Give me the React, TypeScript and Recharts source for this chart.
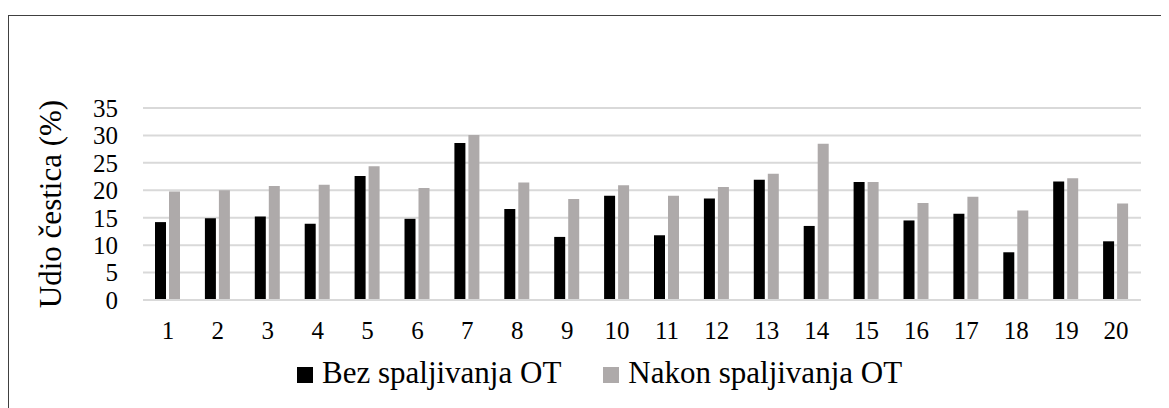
import { BarChart, Bar, CartesianGrid, XAxis, YAxis, Label } from "recharts";

const categories = [
  "1", "2", "3", "4", "5", "6", "7", "8", "9", "10",
  "11", "12", "13", "14", "15", "16", "17", "18", "19", "20",
];
const bezSpaljivanja = [
  14.2, 14.9, 15.2, 13.9, 22.6, 14.8, 28.6, 16.6, 11.5, 19.0,
  11.8, 18.5, 21.9, 13.5, 21.5, 14.5, 15.7, 8.7, 21.6, 10.7,
];
const nakonSpaljivanja = [
  19.8, 20.0, 20.8, 21.0, 24.4, 20.4, 30.1, 21.4, 18.4, 20.9,
  19.0, 20.6, 23.0, 28.5, 21.5, 17.7, 18.8, 16.3, 22.2, 17.6,
];
const yTicks = [0, 5, 10, 15, 20, 25, 30, 35];

const series = [
  { key: "bez", name: "Bez spaljivanja OT", color: "#000000" },
  { key: "nakon", name: "Nakon spaljivanja OT", color: "#AEAAAA" },
];

const data = categories.map((c, i) => ({
  name: c,
  bez: bezSpaljivanja[i],
  nakon: nakonSpaljivanja[i],
}));

const FONT = '"Liberation Serif", "Times New Roman", serif';

export default function App() {
  return (
    <div
      style={{
        position: "relative",
        width: 1159,
        height: 400,
        marginTop: 7,
        border: "1px solid #404040",
        fontFamily: FONT,
        background: "#fff",
      }}
    >
      <BarChart
        width={1159}
        height={400}
        data={data}
        margin={{ top: 92, right: 27, bottom: 86, left: 0 }}
        barSize={11}
        barGap={3}
      >
        <CartesianGrid vertical={false} stroke="#D9D9D9" strokeWidth={2} />
        <XAxis
          dataKey="name"
          height={30}
          tickLine={false}
          axisLine={{ stroke: "#D9D9D9", strokeWidth: 2 }}
          tickMargin={15}
          interval={0}
          tick={{ fill: "#000", fontSize: 25, fontFamily: FONT }}
        />
        <YAxis
          type="number"
          domain={[0, 35]}
          ticks={yTicks}
          width={134}
          tickLine={false}
          axisLine={false}
          tickMargin={19}
          interval={0}
          tick={{ fill: "#000", fontSize: 25, fontFamily: FONT }}
        >
          <Label
            content={() => (
              <text
                x={41}
                y={188}
                transform="rotate(-90 41 188)"
                textAnchor="middle"
                dominantBaseline="central"
                fontSize={31}
                fontFamily={FONT}
                fill="#000"
              >
                Udio čestica (%)
              </text>
            )}
          />
        </YAxis>
        {series.map((s) => (
          <Bar
            key={s.key}
            dataKey={s.key}
            name={s.name}
            fill={s.color}
            isAnimationActive={false}
          />
        ))}
      </BarChart>
      <div
        style={{
          position: "absolute",
          left: 288,
          top: 341,
          display: "flex",
          alignItems: "baseline",
          fontSize: 31,
          lineHeight: "31px",
          whiteSpace: "nowrap",
          color: "#000",
        }}
      >
        {series.map((s, i) => (
          <span
            key={s.key}
            style={{ display: "inline-flex", alignItems: "baseline", marginRight: i === 0 ? 42 : 0 }}
          >
            <span
              style={{
                display: "inline-block",
                width: 16,
                height: 16,
                background: s.color,
                marginRight: 9,
              }}
            />
            {s.name}
          </span>
        ))}
      </div>
    </div>
  );
}
